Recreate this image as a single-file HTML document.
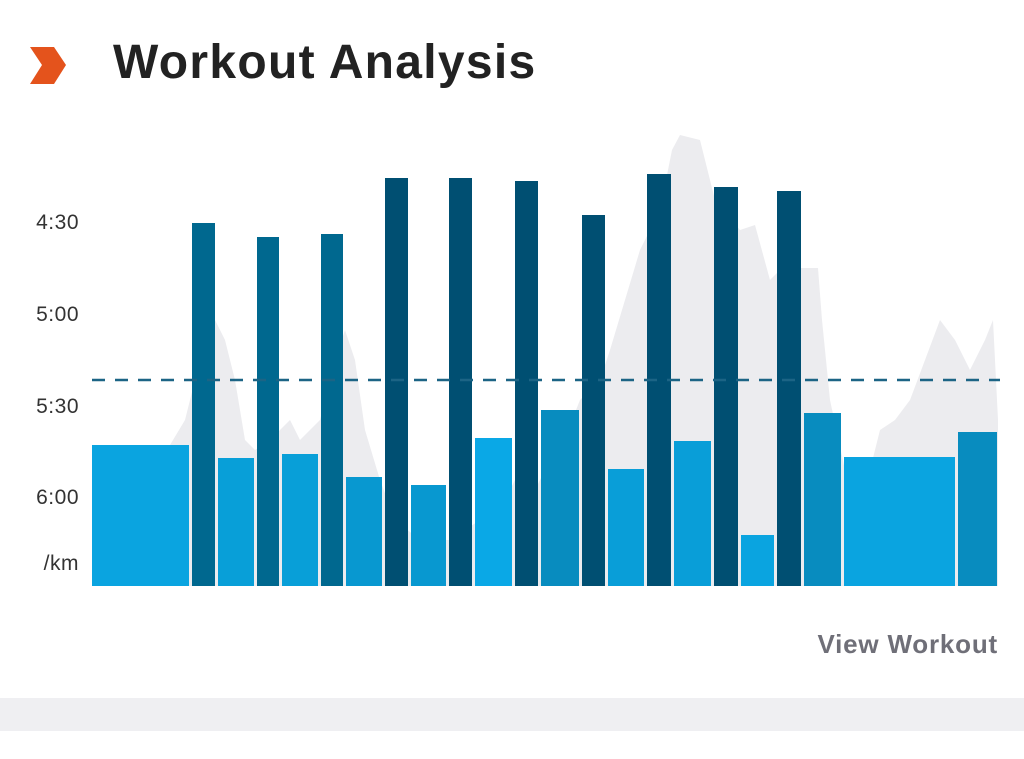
<!DOCTYPE html>
<html><head><meta charset="utf-8"><style>
body{margin:0;width:1024px;height:759px;background:#fff;overflow:hidden;font-family:"Liberation Sans",sans-serif;position:relative}
.t{position:absolute;left:113px;top:35px;font-size:48px;font-weight:bold;color:#222;letter-spacing:1.3px}
.y{position:absolute;right:945px;font-size:21px;color:#333;letter-spacing:0.5px}
.v{position:absolute;right:26px;top:629px;font-size:26px;font-weight:bold;color:#6f6f78;letter-spacing:0.8px}
.band{position:absolute;left:0;top:698px;width:1024px;height:33px;background:#efeff2}
</style></head><body>
<svg width="1024" height="759" style="position:absolute;left:0;top:0">
<polygon points="30,47 54,47 66,65 54,84 30,84 42,65" fill="#e4531c"/>
<polygon points="92,586 95,560 110,505 130,490 150,470 170,445 185,420 200,360 215,320 225,340 235,380 245,440 255,450 270,440 290,420 300,440 320,420 335,360 345,330 355,360 365,430 380,480 395,520 420,540 450,540 480,520 500,510 515,480 530,500 545,470 560,450 580,400 600,380 610,350 625,300 640,250 660,210 672,150 680,135 700,140 715,200 740,230 755,225 770,280 785,265 800,268 818,268 822,320 830,400 845,470 865,490 880,430 895,420 910,400 925,360 940,320 955,340 970,370 985,340 993,320 998,420 998,586" fill="#ececef"/>
<g>
<rect x="92" y="445" width="97" height="141" fill="#0aa4e0"/>
<rect x="192" y="223" width="23" height="363" fill="#00688f"/>
<rect x="218" y="458" width="36" height="128" fill="#089fd8"/>
<rect x="257" y="237" width="22" height="349" fill="#00688f"/>
<rect x="282" y="454" width="36" height="132" fill="#089fd8"/>
<rect x="321" y="234" width="22" height="352" fill="#00688f"/>
<rect x="346" y="477" width="36" height="109" fill="#0898d0"/>
<rect x="385" y="178" width="23" height="408" fill="#004f72"/>
<rect x="411" y="485" width="35" height="101" fill="#0898d0"/>
<rect x="449" y="178" width="23" height="408" fill="#004f72"/>
<rect x="475" y="438" width="37" height="148" fill="#0aa8e6"/>
<rect x="515" y="181" width="23" height="405" fill="#004f72"/>
<rect x="541" y="410" width="38" height="176" fill="#088cbf"/>
<rect x="582" y="215" width="23" height="371" fill="#004f72"/>
<rect x="608" y="469" width="36" height="117" fill="#099ed8"/>
<rect x="647" y="174" width="24" height="412" fill="#004f72"/>
<rect x="674" y="441" width="37" height="145" fill="#099ed8"/>
<rect x="714" y="187" width="24" height="399" fill="#004f72"/>
<rect x="741" y="535" width="33" height="51" fill="#0aa4e0"/>
<rect x="777" y="191" width="24" height="395" fill="#004f72"/>
<rect x="804" y="413" width="37" height="173" fill="#088cbf"/>
<rect x="844" y="457" width="111" height="129" fill="#0aa4e0"/>
<rect x="958" y="432" width="39" height="154" fill="#088cbf"/>
</g>
<line x1="92" y1="380" x2="1000" y2="380" stroke="#1c6485" stroke-width="2.5" stroke-dasharray="13,10"/>
</svg>
<div class="t">Workout Analysis</div>
<div class="y" style="top:211px">4:30</div>
<div class="y" style="top:303px">5:00</div>
<div class="y" style="top:395px">5:30</div>
<div class="y" style="top:486px">6:00</div>
<div class="y" style="top:552px">/km</div>
<div class="v">View Workout</div>
<div class="band"></div>
</body></html>
